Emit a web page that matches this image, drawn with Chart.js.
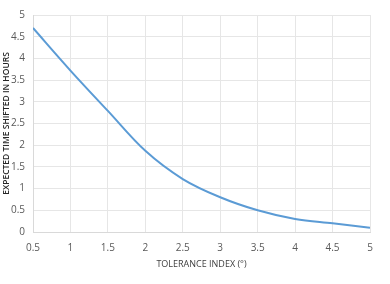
<!DOCTYPE html>
<html>
<head>
<meta charset="utf-8">
<script src="https://cdn.jsdelivr.net/npm/chart.js@4/dist/chart.umd.min.js"></script>
<style>
  html, body { margin: 0; padding: 0; background: #fff; }
  #wrap { width: 390px; height: 284px; }
</style>
</head>
<body>
<div id="wrap"><canvas id="myChart"></canvas></div>
<script>
// tolerance index (x) and expected time shifted (y)
const tolerancia = [0.5, 1, 1.5, 2, 2.5, 3, 3.5, 4, 4.5, 5];
const horas = [4.7, 3.72, 2.79, 1.87, 1.22, 0.8, 0.5, 0.3, 0.2, 0.1];
const ticksX = ["0.5", "1", "1.5", "2", "2.5", "3", "3.5", "4", "4.5", "5"];
const ticksY = ["0", "0.5", "1", "1.5", "2", "2.5", "3", "3.5", "4", "4.5", "5"];

function datosGrafico() {
    const data = tolerancia.map((x, i) => {
        return { x: x, y: horas[i] };
    });
    return {
        datasets: [
            {
                data,
                borderColor: "#5b9bd5",
                borderWidth: 2,
                pointRadius: 0,
                tension: 0.35,
                fill: false
            }
        ]
    };
}

function cargarGrafico() {
    const fuente = "'Open Sans', sans-serif";
    const config = {
        type: "line",
        data: datosGrafico(),
        options: {
            responsive: true,
            maintainAspectRatio: false,
            animation: false,
            layout: { padding: { top: 15, right: 20, bottom: 0, left: 0 } },
            plugins: { legend: { display: false }, tooltip: { enabled: false } },
            scales: {
                x: {
                    type: "linear",
                    min: 0.5,
                    max: 5,
                    afterBuildTicks: (s) => { s.ticks = tolerancia.map((v) => ({ value: v })); },
                    afterFit: (s) => { s.height = 52; },
                    grid: { color: "#e6e6e6", drawTicks: false },
                    border: { color: "#d9d9d9" },
                    ticks: {
                        padding: 10,
                        color: "#595959",
                        font: { family: fuente, size: 10 },
                        maxRotation: 0,
                        callback: (v, i) => ticksX[i]
                    },
                    title: {
                        display: true,
                        text: "TOLERANCE INDEX (°)",
                        color: "#404040",
                        font: { family: fuente, size: 9 },
                        padding: { top: 6, bottom: 14 }
                    }
                },
                y: {
                    min: 0,
                    max: 5,
                    afterBuildTicks: (s) => { s.ticks = ticksY.map((t) => ({ value: Number(t) })); },
                    afterFit: (s) => { s.width = 33; },
                    grid: { color: "#e6e6e6", drawTicks: false },
                    border: { color: "#d9d9d9" },
                    ticks: {
                        padding: 8,
                        color: "#595959",
                        font: { family: fuente, size: 10 },
                        callback: (v, i) => ticksY[i]
                    },
                    title: {
                        display: true,
                        text: "EXPECTED TIME SHIFTED IN HOURS",
                        color: "#262626",
                        font: { family: fuente, size: 8.5, weight: "600" },
                        padding: { top: 1, bottom: 0 }
                    }
                }
            }
        }
    };
    const myChart = document.getElementById("myChart");
    new Chart(myChart, config);
}
cargarGrafico();
</script>
</body>
</html>
